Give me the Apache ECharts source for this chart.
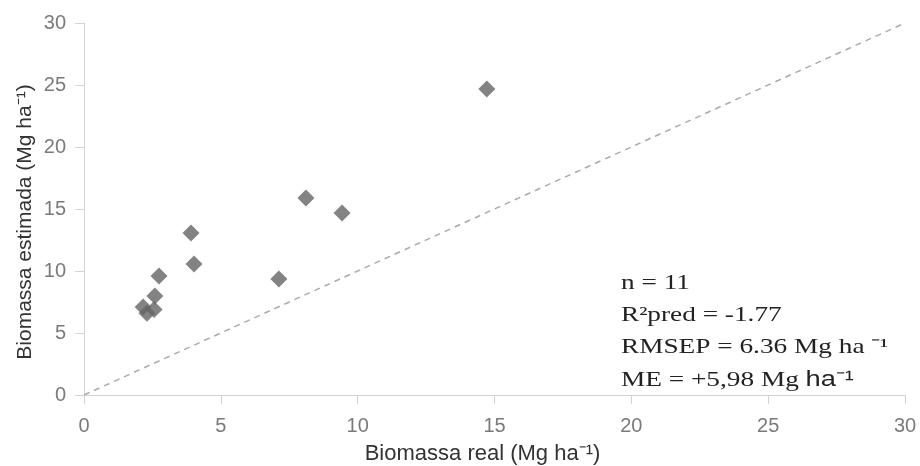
<!DOCTYPE html>
<html>
<head>
<meta charset="utf-8">
<script src="https://cdn.jsdelivr.net/npm/echarts@6/dist/echarts.min.js"></script>
<style>
  html, body { margin: 0; padding: 0; background: #fff; }
  #chart { width: 920px; height: 466px; }
</style>
</head>
<body>
<div id="chart"></div>
<script>
// observed (real) vs estimated biomass, Mg ha-1
const realBiomass = [14.72, 8.11, 9.43, 3.91, 4.02, 7.12, 2.74, 2.59, 2.16, 2.30, 2.56];
const estBiomass  = [24.68, 15.89, 14.68, 13.06, 10.56, 9.35, 9.6, 7.98, 7.1, 6.6, 6.9];
const oneToOne = [[0, 0], [30, 30]];
const statLines = ['n = 11', 'R²pred = -1.77', 'RMSEP = 6.36 Mg ha ⁻¹', 'ME = +5,98 Mg {s|ha⁻¹}'];
const yTitle = 'Biomassa estimada (Mg ha⁻¹)';

const points = realBiomass.map((x, i) => [x, estBiomass[i]]);

const chart = echarts.init(document.getElementById('chart'));

const axisCommon = {
  type: 'value',
  min: 0,
  max: 30,
  interval: 5,
  splitLine: { show: false },
  axisLine: { show: true, lineStyle: { color: '#d4d4d4', width: 1 } },
  axisTick: { show: true, length: 9, lineStyle: { color: '#d4d4d4' } },
  axisLabel: { color: '#7a7a7a', fontSize: 20, fontFamily: 'Liberation Sans' },
  nameLocation: 'middle'
};

const statText = statLines.map((t, i) => ({
  type: 'text',
  x: 621,
  y: 283 + i * 32.3,
  scaleX: 1.24,
  style: {
    text: t,
    fill: '#222',
    fontSize: 22,
    fontFamily: 'Liberation Serif',
    verticalAlign: 'middle',
    rich: {
      s: { fontSize: 22, fontFamily: 'Liberation Sans', fill: '#222' }
    }
  }
}));

const option = {
  animation: false,
  grid: { left: 84, right: 15, top: 23, bottom: 71, outerBoundsMode: 'none' },
  xAxis: Object.assign({}, axisCommon, {
    name: 'Biomassa real (Mg ha⁻¹)',
    nameGap: 48,
    nameTextStyle: { color: '#333', fontSize: 22, fontFamily: 'Liberation Sans', padding: [0, 24, 0, 0] },
    axisLabel: Object.assign({}, axisCommon.axisLabel, { margin: 21 })
  }),
  yAxis: Object.assign({}, axisCommon, {
    axisLabel: Object.assign({}, axisCommon.axisLabel, { margin: 18 })
  }),
  series: [
    {
      type: 'line',
      data: oneToOne,
      symbol: 'none',
      lineStyle: { color: '#ababab', width: 1.5, type: [6, 5] },
      z: 1
    },
    {
      type: 'scatter',
      data: points,
      symbol: 'diamond',
      symbolSize: [17, 17],
      itemStyle: { color: '#646464' },
      z: 2
    }
  ],
  graphic: statText.concat([{
    type: 'text',
    x: 25,
    y: 222,
    rotation: Math.PI / 2,
    style: {
      text: yTitle,
      fill: '#333',
      fontSize: 21,
      fontFamily: 'Liberation Sans',
      align: 'center',
      verticalAlign: 'middle'
    }
  }])
};

chart.setOption(option);
</script>
</body>
</html>
